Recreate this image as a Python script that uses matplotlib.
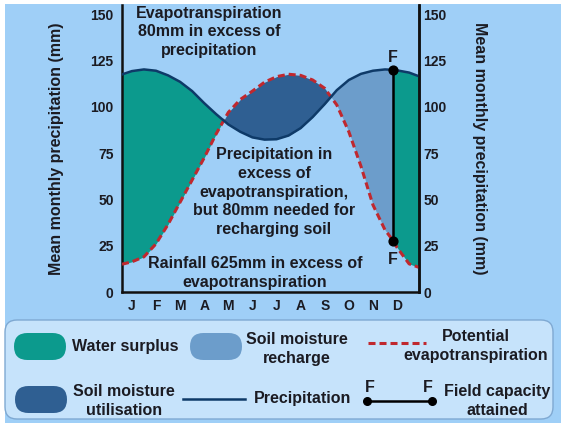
import numpy as np
import matplotlib
matplotlib.use("Agg")
import matplotlib.pyplot as plt
from matplotlib.patches import FancyBboxPatch, Rectangle

plt.rcParams['font.family'] = ['Liberation Sans', 'DejaVu Sans']
plt.rcParams['font.weight'] = 'bold'

# ---- data ----
months = ['J', 'F', 'M', 'A', 'M', 'J', 'J', 'A', 'S', 'O', 'N', 'D']
yticks = [0, 25, 50, 75, 100, 125, 150]

# position in the year (0 = January) where the curves were read
t = [-0.41, 0, 0.5, 1, 1.5, 2, 2.5, 3, 3.5, 4, 4.5, 5, 5.5, 6, 6.5, 7,
     7.5, 8, 8.5, 9, 9.5, 10, 10.5, 10.84, 11, 11.5, 11.91]
precip = [117.5, 119.3, 120.2, 119.5, 117, 113.5, 108.5, 102, 96, 90.5, 86.5,
          83.5, 82.3, 82.5, 84.5, 88.5, 94.5, 101.5, 109, 114.5, 117.8, 119.5,
          120.2, 120.0, 119.7, 118.5, 116.5]
pet = [15, 16.3, 19, 26, 36.5, 48.5, 60.5, 72.5, 85.5, 97, 104, 108.5, 113.3,
       116.3, 117.6, 117, 114.5, 110, 101, 86.5, 68, 47, 33.5, 27.7, 24, 15.2,
       13.3]
fc_month = 10.84   # field capacity attained

# colours
bg = '#9fcff7'
box_bg = '#c6e3fb'
teal = '#0c9a8d'
util_c = '#2f5f92'
rech_c = '#6c9dcb'
prec_c = '#0e3a68'
pet_c = '#c0282e'
txt = '#1b1b22'

x = np.array(t)
P = np.array(precip)
E = np.array(pet)

fig = plt.figure(figsize=(5.61, 4.23), dpi=100, facecolor=bg)

ax = fig.add_axes([122/561, (423-292)/423, 297/561, 287/423])
ax.set_facecolor('none')
ax.set_xlim(-0.41, 11.91)
ax.set_ylim(0, 155)

# water surplus (start of year, and after field capacity)
ax.fill_between(x, P, E, where=(x <= 6) & (P >= E), interpolate=True,
                color=teal, lw=0, zorder=1)
m = x >= fc_month
ax.fill_between(x[m], P[m], E[m], color=teal, lw=0, zorder=1)
# soil moisture utilisation
ax.fill_between(x, P, E, where=E >= P, interpolate=True,
                color=util_c, lw=0, zorder=1)
# soil moisture recharge
m = (x >= 6) & (x <= fc_month)
ax.fill_between(x[m], P[m], E[m], where=P[m] >= E[m], interpolate=True,
                color=rech_c, lw=0, zorder=1)

ax.plot(x, E, color=pet_c, lw=2.2, dashes=(2.3, 1.3), zorder=3)
ax.plot(x, P, color=prec_c, lw=1.8, zorder=4)

# field capacity line
fc_top = precip[t.index(fc_month)]
fc_bot = pet[t.index(fc_month)]
ax.plot([fc_month, fc_month], [fc_bot, fc_top], color='black', lw=1.8, zorder=5)
ax.scatter([fc_month, fc_month], [fc_bot, fc_top], s=40, color='black', zorder=6)

ax.set_xticks(range(12))
ax.set_xticklabels(months)
ax.set_yticks(yticks)
ax.tick_params(axis='both', length=0, labelsize=10, labelcolor=txt)
ax.tick_params(axis='y', pad=6)
ax.tick_params(axis='x', pad=5)
for s in ['left', 'bottom', 'right']:
    ax.spines[s].set_linewidth(1.8)
    ax.spines[s].set_color('#111111')
ax.spines['top'].set_visible(False)
ax.set_ylabel('Mean monthly precipitation (mm)', fontsize=11.5, color=txt,
              fontweight='bold')
ax.yaxis.set_label_coords(-0.195, 0.5)

ax2 = ax.twinx()
ax2.set_ylim(0, 155)
ax2.set_yticks(yticks)
ax2.tick_params(axis='y', length=0, labelsize=10, labelcolor=txt, pad=3)
for s in ['left', 'bottom', 'top']:
    ax2.spines[s].set_visible(False)
ax2.spines['right'].set_linewidth(1.8)
ax2.spines['right'].set_color('#111111')
ax2.set_ylabel('Mean monthly precipitation (mm)', fontsize=11.5, color=txt,
               fontweight='bold', rotation=270, va='center')
ax2.yaxis.set_label_coords(1.205, 0.5)

# ---- overlay in pixel units for text and legend ----
ov = fig.add_axes([0, 0, 1, 1], zorder=10)
ov.set_xlim(0, 561)
ov.set_ylim(423, 0)
ov.axis('off')
ov.patch.set_alpha(0)

ov.add_patch(Rectangle((0, 0), 561, 4, color='white', lw=0))
ov.add_patch(Rectangle((0, 0), 5, 423, color='white', lw=0))

fs = 11.5
ov.text(209, 32, 'Evapotranspiration\n80mm in excess of\nprecipitation',
        ha='center', va='center', fontsize=fs, color=txt, linespacing=1.3)
ov.text(274, 192, 'Precipitation in\nexcess of\nevapotranspiration,\n'
        'but 80mm needed for\nrecharging soil',
        ha='center', va='center', fontsize=fs, color=txt, linespacing=1.3)
ov.text(255, 273, 'Rainfall 625mm in excess of\nevapotranspiration',
        ha='center', va='center', fontsize=fs, color=txt, linespacing=1.3)
ov.text(393, 57, 'F', ha='center', va='center', fontsize=fs, color=txt)
ov.text(393, 259, 'F', ha='center', va='center', fontsize=fs, color=txt)

# legend box
ov.add_patch(FancyBboxPatch((5, 320), 548, 99,
                            boxstyle='round,pad=0,rounding_size=12',
                            fc=box_bg, ec='#7fa9d2', lw=1))


def pill(x0, y0, c):
    ov.add_patch(FancyBboxPatch((x0, y0), 52, 27,
                                boxstyle='round,pad=0,rounding_size=13.5',
                                fc=c, ec='none'))


pill(14, 333, teal)
ov.text(72, 347, 'Water surplus', ha='left', va='center', fontsize=fs, color=txt)
pill(190, 333, rech_c)
ov.text(297, 349, 'Soil moisture\nrecharge', ha='center', va='center',
        fontsize=fs, color=txt, linespacing=1.3)
ov.plot([368, 426], [343, 343], color=pet_c, lw=2.2, dashes=(2.3, 1.3))
ov.text(476, 346, 'Potential\nevapotranspiration', ha='center', va='center',
        fontsize=fs, color=txt, linespacing=1.3)

pill(15, 386, util_c)
ov.text(124, 401, 'Soil moisture\nutilisation', ha='center', va='center',
        fontsize=fs, color=txt, linespacing=1.3)
ov.plot([183, 245], [399, 399], color=prec_c, lw=1.8)
ov.text(254, 399, 'Precipitation', ha='left', va='center', fontsize=fs, color=txt)
ov.plot([367, 432], [401, 401], color='black', lw=1.8)
ov.scatter([367, 432], [401, 401], s=30, color='black', zorder=11)
ov.text(370, 388, 'F', ha='center', va='center', fontsize=fs, color=txt)
ov.text(428, 388, 'F', ha='center', va='center', fontsize=fs, color=txt)
ov.text(497, 401, 'Field capacity\nattained', ha='center', va='center',
        fontsize=fs, color=txt, linespacing=1.3)

fig.savefig('out.png', dpi=100, facecolor=bg)
